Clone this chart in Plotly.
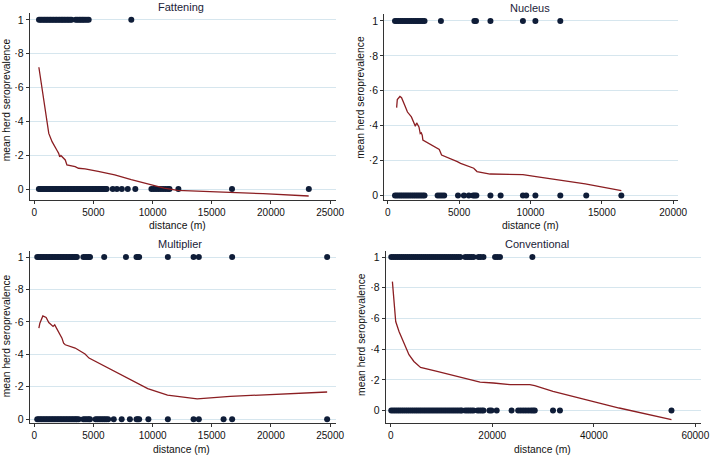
import plotly.graph_objects as go

# ---------------- data ----------------
titles = ["Fattening", "Nucleus", "Multiplier", "Conventional"]
y_ticks = [0, 0.2, 0.4, 0.6, 0.8, 1]
y_ticktext = ["0", "·2", "·4", "·6", "·8", "1"]

# Fattening
fat_pos_x = [400, 520, 650, 780, 900, 1030, 1150, 1280, 1400, 1530, 1650, 1790, 1900, 2040,
             2160, 2290, 2400, 2530, 2650, 2780, 2900, 3030, 3150, 3500, 3630, 3780, 3900,
             4040, 4160, 4300, 4450, 4600, 8200]
fat_neg_x = [390, 510, 640, 770, 900, 1020, 1150, 1270, 1400, 1520, 1650, 1780, 1900, 2030,
             2150, 2280, 2400, 2530, 2650, 2780, 2900, 3030, 3150, 3280, 3400, 3530, 3650,
             3780, 3900, 4030, 4150, 4280, 4400, 4530, 4650, 4780, 4900, 5030, 5150, 5280,
             5400, 5530, 5650, 5780, 5900, 6020, 6117, 6630, 6980, 7400, 7900, 8540, 9900,
             10100, 10300, 10500, 10700, 10900, 11100, 11300, 11430, 12180, 16710, 23200]
fat_curve_x = [390, 670, 950, 1226, 1505, 1784, 1950, 2062, 2150, 2250, 2620, 2760, 3456,
               3735, 4290, 5400, 6800, 8194, 9588, 10980, 12100, 13770, 16555, 19340, 23190]
fat_curve_y = [0.72, 0.583, 0.466, 0.329, 0.28, 0.24, 0.225, 0.211, 0.19, 0.198, 0.172, 0.143,
               0.133, 0.123, 0.119, 0.104, 0.084, 0.055, 0.029, 0.006, -0.008, -0.012,
               -0.018, -0.027, -0.041]

# Nucleus
nuc_pos_x = [506, 630, 760, 890, 1020, 1150, 1280, 1410, 1540, 1670, 1800, 1930, 2060, 2190,
             2320, 2450, 2575, 3724, 6070, 6180, 7195, 9471, 10345, 12090]
nuc_neg_x = [506, 630, 760, 890, 1020, 1150, 1280, 1410, 1540, 1670, 1800, 1930, 2060, 2190,
             2320, 2450, 2575, 3494, 3650, 3800, 3954, 4920, 5333, 5678, 5977, 6090, 6207,
             7195, 7908, 9471, 9701, 10345, 12090, 13908, 16368]
nuc_curve_x = [620, 667, 851, 966, 1195, 1379, 1655, 1839, 1931, 2023, 2184, 2276, 2345, 2414,
               2460, 3609, 3770, 4874, 5103, 6023, 6253, 7172, 9471, 10391, 13839, 16368]
nuc_curve_y = [0.503, 0.55, 0.567, 0.56, 0.516, 0.478, 0.45, 0.412, 0.397, 0.416, 0.393, 0.355,
               0.359, 0.345, 0.317, 0.264, 0.232, 0.194, 0.184, 0.156, 0.137, 0.123, 0.119,
               0.108, 0.066, 0.028]

# Multiplier
mul_pos_x = [250, 380, 510, 640, 770, 900, 1030, 1160, 1290, 1420, 1550, 1680, 1810, 1940,
             2070, 2200, 2330, 2460, 2590, 2720, 2850, 2980, 3110, 3240, 3370, 3500, 3600,
             4150, 4300, 4450, 4600, 4710, 5909, 7748, 8640, 8750, 8863, 11288, 13462, 13907,
             16722, 24749]
mul_neg_x = [250, 380, 510, 640, 770, 900, 1030, 1160, 1290, 1420, 1550, 1680, 1810, 1940,
             2070, 2200, 2330, 2460, 2590, 2720, 2850, 2980, 3110, 3240, 3370, 3500, 3600,
             3750, 4150, 4300, 4450, 4600, 4710, 5184, 5330, 5480, 5630, 5780, 5930, 6080,
             6243, 6717, 7386, 8082, 8640, 8750, 8863, 9643, 11288, 13462, 13907, 15998,
             16722, 24749]
mul_curve_x = [390, 474, 725, 1003, 1226, 1421, 1589, 1728, 1839, 2062, 2341, 2480, 2620, 3456,
               4292, 4627, 5964, 8194, 9588, 11260, 13768, 16555, 24749]
mul_curve_y = [0.561, 0.592, 0.637, 0.627, 0.596, 0.582, 0.572, 0.582, 0.566, 0.541, 0.5,
               0.469, 0.459, 0.439, 0.402, 0.377, 0.326, 0.244, 0.189, 0.148, 0.125, 0.141,
               0.168]

# Conventional
con_pos_x = [100, 500, 900, 1300, 1700, 2100, 2500, 2900, 3300, 3700, 4100, 4500, 4900, 5300,
             5700, 6100, 6500, 6900, 7300, 7700, 8100, 8500, 8900, 9300, 9700, 10100, 10500,
             10900, 11300, 11700, 12100, 12500, 12900, 13300, 13700, 14680, 15100, 15500,
             15900, 16300, 17280, 17700, 18260, 20550, 21000, 21520, 27900]
con_neg_x = [100, 500, 900, 1300, 1700, 2100, 2500, 2900, 3300, 3700, 4100, 4500, 4900, 5300,
             5700, 6100, 6500, 6900, 7300, 7700, 8100, 8500, 8900, 9300, 9700, 10100, 10500,
             10900, 11300, 11700, 12100, 12500, 12900, 13300, 13700, 14000, 14680, 15100,
             15500, 15900, 16300, 17100, 17500, 17900, 18260, 19440, 19830, 20870, 23800,
             25100, 25600, 26100, 26600, 27100, 27600, 28000, 28370, 31960, 33330, 55300]
con_curve_x = [326, 652, 978, 1630, 2609, 3587, 4565, 5870, 9130, 12400, 15660, 17600, 20220,
               23480, 27390, 28370, 31960, 38480, 45000, 55300]
con_curve_y = [0.84, 0.71, 0.58, 0.515, 0.44, 0.364, 0.32, 0.281, 0.255, 0.227, 0.201, 0.186,
               0.18, 0.169, 0.169, 0.162, 0.126, 0.071, 0.017, -0.058]

x_tickvals = [
    [0, 5000, 10000, 15000, 20000, 25000],
    [0, 5000, 10000, 15000, 20000],
    [0, 5000, 10000, 15000, 20000, 25000],
    [0, 20000, 40000, 60000],
]

# ---------------- layout geometry (pixels) ----------------
W, H = 719, 458
panels = [
    dict(l=30, r=340, t=12, b=200.7, xr=[-392, 25476], yr=[-0.067, 1.041],
         tx=183, ty=6, ax=180, ay=225.5, yy=99),
    dict(l=389, r=687, t=13, b=200.7, xr=[-256, 20367], yr=[-0.028, 1.04],
         tx=537, ty=7, ax=537, ay=225.5, yy=97),
    dict(l=30, r=340, t=252, b=425, xr=[-392, 25476], yr=[-0.0245, 1.035],
         tx=182, ty=245, ax=184, ay=451, yy=336.5),
    dict(l=390.7, r=710, t=252, b=425, xr=[-973, 61140], yr=[-0.082, 1.037],
         tx=544, ty=245, ax=549, ay=451, yy=336),
]

series = [
    (fat_pos_x, fat_neg_x, fat_curve_x, fat_curve_y),
    (nuc_pos_x, nuc_neg_x, nuc_curve_x, nuc_curve_y),
    (mul_pos_x, mul_neg_x, mul_curve_x, mul_curve_y),
    (con_pos_x, con_neg_x, con_curve_x, con_curve_y),
]

DOT = "#0f1d38"
LINE = "#8b1e22"
GRID = "#d6e6ee"
FONT = "Liberation Sans, Arial, sans-serif"

fig = go.Figure()
layout = dict(
    width=W, height=H, margin=dict(l=0, r=0, t=0, b=0),
    paper_bgcolor="white", plot_bgcolor="white", showlegend=False,
    font=dict(family=FONT, size=10, color="#111"),
)
annotations = []

for i, (p, (px, nx, cx, cy)) in enumerate(zip(panels, series)):
    n = "" if i == 0 else str(i + 1)
    xa, ya = "x" + n, "y" + n
    fig.add_trace(go.Scatter(x=px, y=[1] * len(px), mode="markers", xaxis=xa, yaxis=ya,
                             marker=dict(color=DOT, size=6, line=dict(width=0))))
    fig.add_trace(go.Scatter(x=nx, y=[0] * len(nx), mode="markers", xaxis=xa, yaxis=ya,
                             marker=dict(color=DOT, size=6, line=dict(width=0))))
    fig.add_trace(go.Scatter(x=cx, y=cy, mode="lines", xaxis=xa, yaxis=ya,
                             line=dict(color=LINE, width=1.3)))
    dx = [p["l"] / W, p["r"] / W]
    dy = [1 - p["b"] / H, 1 - p["t"] / H]
    layout["xaxis" + n] = dict(
        domain=dx, range=p["xr"], anchor=ya, showgrid=False, zeroline=False,
        showline=True, linecolor="#333", linewidth=1, ticks="outside", ticklen=3,
        tickcolor="#333", tickvals=x_tickvals[i], ticktext=[str(v) for v in x_tickvals[i]],
        tickfont=dict(size=10, color="#111"),
    )
    layout["yaxis" + n] = dict(
        domain=dy, range=p["yr"], anchor=xa, showgrid=True, gridcolor=GRID, gridwidth=1,
        zeroline=False, showline=True, linecolor="#333", linewidth=1, ticks="outside",
        ticklen=3, tickcolor="#333", tickvals=y_ticks, ticktext=y_ticktext,
        tickfont=dict(size=10.5, color="#111"),
    )
    annotations.append(dict(text=titles[i], x=p["tx"] / W, y=1 - p["ty"] / H,
                            xref="paper", yref="paper", showarrow=False,
                            font=dict(size=11, color="#1a2238"), xanchor="center",
                            yanchor="middle"))
    annotations.append(dict(text="distance (m)", x=p["ax"] / W, y=1 - p["ay"] / H,
                            xref="paper", yref="paper", showarrow=False,
                            font=dict(size=10.3, color="#111"), xanchor="center",
                            yanchor="middle"))
    annotations.append(dict(text="mean herd seroprevalence", x=(p["l"] - 24) / W,
                            y=1 - p["yy"] / H, xref="paper", yref="paper",
                            showarrow=False, textangle=-90,
                            font=dict(size=10.3, color="#111"), xanchor="center",
                            yanchor="middle"))

layout["annotations"] = annotations
fig.update_layout(**layout)
fig.write_html(
    "out.html",
    config={"displayModeBar": False},
    post_script="document.body.style.margin='0';document.body.style.overflow='hidden';",
)
